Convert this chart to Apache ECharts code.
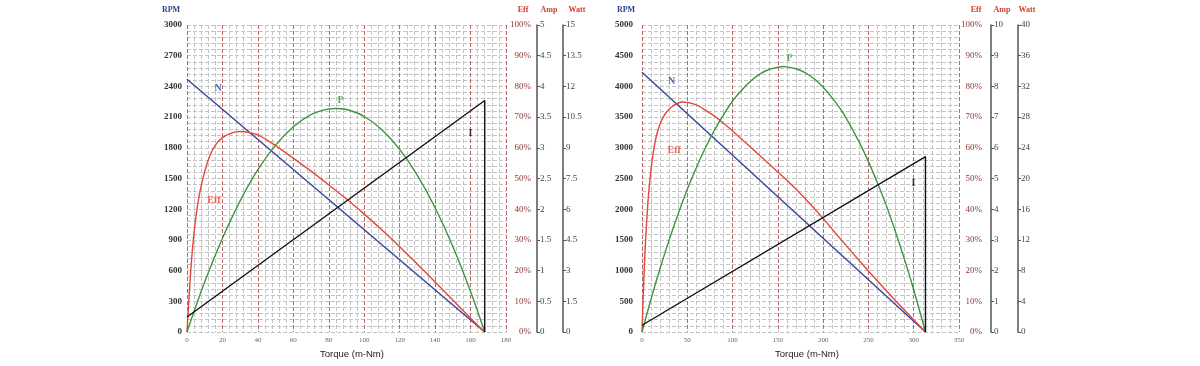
<!DOCTYPE html>
<html>
<head>
<meta charset="utf-8">
<script src="https://cdn.jsdelivr.net/npm/echarts@6/dist/echarts.min.js"></script>
<style>
html,body{margin:0;padding:0;background:#fff;}
#chart{width:1200px;height:366px;}
</style>
</head>
<body>
<div id="chart"></div>
<script>
// ---------- Left chart data (Torque in m-Nm) ----------
const leftSpeedTorque = [0, 168];
const leftSpeed = [2470, 0];               // RPM
const leftCurrentTorque = [0, 168, 168];
const leftCurrent = [0.245, 3.77, 0];      // Amp
const leftPowerTorque = [0, 10, 20, 30, 40, 50, 60, 70, 80, 84, 90, 100, 110, 120, 130, 140, 150, 160, 168];
const leftPower = [0, 2.45, 4.58, 6.41, 7.93, 9.13, 10.03, 10.62, 10.90, 10.92, 10.87, 10.53, 9.88, 8.92, 7.65, 6.07, 4.18, 1.98, 0]; // Watt
const leftEffTorque = [0, 1, 2, 3, 4, 5, 7, 10, 13, 16, 20, 25, 30, 35, 40, 45, 50, 60, 70, 80, 90, 100, 110, 120, 130, 140, 150, 160, 168];
const leftEff = [0, 10, 19, 26.5, 32.5, 37.3, 44.8, 52.3, 57.6, 60.9, 63.3, 64.8, 65.3, 65.0, 64.2, 62.6, 60.7, 56.6, 52.4, 47.9, 43.3, 38.4, 33.2, 27.8, 22.1, 16.3, 10.4, 4.5, 0]; // %

// ---------- Right chart data ----------
const rightSpeedTorque = [0, 313];
const rightSpeed = [4230, 0];
const rightCurrentTorque = [0, 313, 313];
const rightCurrent = [0.22, 5.71, 0];
const rightPowerTorque = [0, 10, 20, 30, 40, 50, 60, 70, 80, 90, 100, 110, 120, 130, 140, 150, 156, 160, 170, 180, 190, 200, 210, 220, 230, 240, 250, 260, 270, 280, 290, 300, 313];
const rightPower = [0, 4.3, 8.3, 12.0, 15.4, 18.6, 21.4, 24.0, 26.3, 28.3, 30.1, 31.5, 32.7, 33.6, 34.2, 34.5, 34.6, 34.55, 34.3, 33.8, 33.0, 31.9, 30.5, 28.9, 26.9, 24.7, 22.2, 19.4, 16.4, 13.0, 9.4, 5.5, 0];
const rightEffTorque = [0, 1, 2, 3, 4, 5, 7, 10, 13, 16, 20, 25, 30, 35, 40, 45, 50, 60, 70, 80, 90, 100, 120, 140, 160, 180, 200, 220, 240, 260, 280, 300, 313];
const rightEff = [0, 9, 17, 24, 30, 35, 44, 53, 59.5, 64, 67.8, 70.8, 72.6, 73.8, 74.6, 74.9, 74.8, 74, 72.3, 70.3, 68, 65.5, 60.2, 54.8, 49.4, 43.5, 37.0, 30.0, 23.2, 16.6, 10.2, 4.0, 0];

// curve name labels: [torque, value on its own axis]
const leftLabelN = [17.5, 2380];
const leftLabelP = [86.6, 11.3];
const leftLabelEff = [15.2, 43];
const leftLabelI = [160, 3.24];
const rightLabelN = [32.7, 4076];
const rightLabelP = [163, 35.6];
const rightLabelEff = [35.6, 59.2];
const rightLabelI = [299.6, 4.84];

const zip = (a, b) => a.map((v, i) => [v, b[i]]);

const COL_N = '#34449a', COL_EFF = '#e2483a', COL_P = '#3e9440', COL_I = '#111111';
const SERIF = '"Liberation Serif","DejaVu Serif",serif';
const SANS = '"Liberation Sans",Arial,sans-serif';
const GRIDGRAY = '#c4c4c4';

function xAxisDef(gi, max, interval) {
  return {
    type: 'value', gridIndex: gi, min: 0, max: max, interval: interval,
    axisLine: {show: false}, axisTick: {show: false},
    axisLabel: {fontSize: 7, color: '#666', margin: 5, fontFamily: SERIF, formatter: v => String(v)},
    splitLine: {show: true, lineStyle: {color: '#b86a6a', type: [4, 2], width: 1}},
    minorTick: {show: false, splitNumber: 5},
    minorSplitLine: {show: true, lineStyle: {color: GRIDGRAY, type: [4, 2], width: 1}},
    z: 1
  };
}
function yLeftDef(gi, max, interval, margin) {
  return {
    type: 'value', gridIndex: gi, position: 'left', min: 0, max: max, interval: interval,
    axisLine: {show: false}, axisTick: {show: false},
    axisLabel: {fontSize: 9, color: '#333', margin: margin, fontFamily: SERIF, fontWeight: 'bold', formatter: v => String(v)},
    splitLine: {show: true, lineStyle: {color: GRIDGRAY, type: [4, 2], width: 1}},
    minorTick: {show: false, splitNumber: 5},
    minorSplitLine: {show: true, lineStyle: {color: GRIDGRAY, type: [4, 2], width: 1}}
  };
}
function yEffDef(gi, margin) {
  return {
    type: 'value', gridIndex: gi, position: 'right', min: 0, max: 100, interval: 10,
    axisLine: {show: false}, axisTick: {show: false}, splitLine: {show: false},
    axisLabel: {formatter: '{value}%', align: 'right', margin: margin, fontSize: 9, color: '#8e3434', fontFamily: SERIF}
  };
}
function yScaleDef(gi, offset, max, interval) {
  return {
    type: 'value', gridIndex: gi, position: 'right', offset: offset, min: 0, max: max, interval: interval,
    axisLine: {show: true, lineStyle: {color: '#555', width: 1.5}},
    axisTick: {show: true, length: 3, lineStyle: {color: '#555', width: 1}},
    splitLine: {show: false},
    axisLabel: {margin: 3, fontSize: 9, color: '#444', fontFamily: SERIF, formatter: v => String(v)}
  };
}
function line(xi, yi, data, color, smooth) {
  return {type: 'line', xAxisIndex: xi, yAxisIndex: yi, data: data, showSymbol: false, symbol: 'none',
    smooth: smooth ? 0.3 : false, lineStyle: {color: color, width: 1.4}, itemStyle: {color: color}, z: 5, silent: true};
}
function tag(xi, yi, pos, text, color) {
  return {type: 'scatter', xAxisIndex: xi, yAxisIndex: yi, data: [pos], symbolSize: 2,
    itemStyle: {color: 'rgba(0,0,0,0)'}, silent: true, z: 6,
    label: {show: true, position: 'inside', formatter: text, color: color, fontSize: 10, fontWeight: 'bold', fontFamily: SERIF}};
}
function txt(x, y, s, color, font) {
  return {type: 'text', x: x, y: y, style: {text: s, fill: color, font: font, align: 'center', verticalAlign: 'middle'}};
}

const option = {
  animation: false,
  backgroundColor: '#ffffff',
  grid: [
    {left: 187, top: 25, width: 319, height: 307},
    {left: 642, top: 25, width: 317, height: 307}
  ],
  xAxis: [xAxisDef(0, 180, 20), xAxisDef(1, 350, 50)],
  yAxis: [
    yLeftDef(0, 3000, 300, 5), yEffDef(0, 25), yScaleDef(0, 31, 5, 0.5), yScaleDef(0, 57, 15, 1.5),
    yLeftDef(1, 5000, 500, 9), yEffDef(1, 23), yScaleDef(1, 32, 10, 1), yScaleDef(1, 59, 40, 4)
  ],
  series: [
    line(0, 0, zip(leftSpeedTorque, leftSpeed), COL_N, false),
    line(0, 1, zip(leftEffTorque, leftEff), COL_EFF, true),
    line(0, 3, zip(leftPowerTorque, leftPower), COL_P, true),
    line(0, 2, zip(leftCurrentTorque, leftCurrent), COL_I, false),
    tag(0, 0, leftLabelN, 'N', COL_N),
    tag(0, 3, leftLabelP, 'P', COL_P),
    tag(0, 1, leftLabelEff, 'Eff', COL_EFF),
    tag(0, 2, leftLabelI, 'I', COL_I),
    line(1, 4, zip(rightSpeedTorque, rightSpeed), COL_N, false),
    line(1, 5, zip(rightEffTorque, rightEff), COL_EFF, true),
    line(1, 7, zip(rightPowerTorque, rightPower), COL_P, true),
    line(1, 6, zip(rightCurrentTorque, rightCurrent), COL_I, false),
    tag(1, 4, rightLabelN, 'N', COL_N),
    tag(1, 7, rightLabelP, 'P', COL_P),
    tag(1, 5, rightLabelEff, 'Eff', COL_EFF),
    tag(1, 6, rightLabelI, 'I', COL_I)
  ],
  graphic: [
    txt(171, 10, 'RPM', '#2d3f93', 'bold 8px ' + SERIF),
    txt(523, 10, 'Eff', '#d23c2c', 'bold 8px ' + SERIF),
    txt(549, 10, 'Amp', '#d23c2c', 'bold 8px ' + SERIF),
    txt(577, 10, 'Watt', '#d23c2c', 'bold 8px ' + SERIF),
    txt(352, 354, 'Torque (m-Nm)', '#222', '9.5px ' + SANS),
    txt(626, 10, 'RPM', '#2d3f93', 'bold 8px ' + SERIF),
    txt(976, 10, 'Eff', '#d23c2c', 'bold 8px ' + SERIF),
    txt(1002, 10, 'Amp', '#d23c2c', 'bold 8px ' + SERIF),
    txt(1027, 10, 'Watt', '#d23c2c', 'bold 8px ' + SERIF),
    txt(807, 354, 'Torque (m-Nm)', '#222', '9.5px ' + SANS)
  ]
};

const chart = echarts.init(document.getElementById('chart'), null, {renderer: 'canvas'});
chart.setOption(option);
</script>
</body>
</html>
